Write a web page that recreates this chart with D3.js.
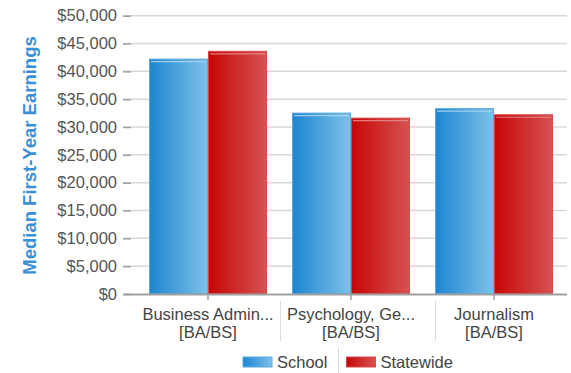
<!DOCTYPE html>
<html>
<head>
<meta charset="utf-8">
<script src="https://cdn.jsdelivr.net/npm/d3@7"></script>
<style>
  html, body { margin: 0; padding: 0; background: #fff; }
  svg { display: block; font-family: "Liberation Sans", Arial, sans-serif; }
</style>
</head>
<body>
<svg id="chart" width="571" height="373"></svg>
<script>
// Median first-year earnings by program
const categories = [["Business Admin...", "[BA/BS]"], ["Psychology, Ge...", "[BA/BS]"], ["Journalism", "[BA/BS]"]];
const seriesNames = ["School", "Statewide"];
const schoolValues = [42200, 32500, 33300];
const statewideValues = [43600, 31600, 32200];
const yTicks = [0, 5000, 10000, 15000, 20000, 25000, 30000, 35000, 40000, 45000, 50000];
const yTitle = "Median First-Year Earnings";

const svg = d3.select("#chart");
const plotLeft = 123, plotRight = 567, plotTop = 15.7, plotBottom = 294;
const fontSize = "16.5px";

const y = d3.scaleLinear().domain([0, 50000]).range([plotBottom, plotTop]);
const x = d3.scaleBand().domain(d3.range(categories.length)).range([136.5, 565.5]);
const inner = d3.scaleBand().domain(seriesNames).range([0, 118]);

const defs = svg.append("defs");
function grad(id, c0, c1) {
  const g = defs.append("linearGradient").attr("id", id).attr("x1", 0).attr("x2", 1).attr("y1", 0).attr("y2", 0);
  g.append("stop").attr("offset", "0%").attr("stop-color", c0);
  g.append("stop").attr("offset", "100%").attr("stop-color", c1);
}
grad("gSchool", "#1c86d1", "#7ec1e8");
grad("gState", "#c70606", "#d65252");
const fills = { School: "url(#gSchool)", Statewide: "url(#gState)" };
const edges = { School: "#5aa9e0", Statewide: "#d84848" };
const shine = { School: "#a9d6f2", Statewide: "#e88a8a" };

// gridlines
svg.append("g").selectAll("line").data(yTicks.filter(d => d > 0)).join("line")
  .attr("x1", plotLeft).attr("x2", plotRight)
  .attr("y1", d => y(d)).attr("y2", d => y(d))
  .attr("stroke", "#d8d8d8").attr("stroke-width", 1.5);

// y axis ticks and labels
const yAxis = d3.axisLeft(y).tickValues(yTicks).tickSize(8).tickPadding(6)
  .tickFormat(d => "$" + d3.format(",")(d));
const ya = svg.append("g").attr("transform", `translate(${plotLeft + 8},0)`).call(yAxis);
ya.select(".domain").remove();
ya.selectAll(".tick line").attr("stroke", "#a0a0a0").attr("stroke-width", 1.5);
ya.selectAll(".tick text").attr("fill", "#555").style("font-size", fontSize)
  .style("font-family", "Liberation Sans, Arial, sans-serif");

// y title
svg.append("text")
  .attr("transform", `translate(35.5,155.5) rotate(-90)`)
  .attr("text-anchor", "middle")
  .attr("fill", "#3a90d6").style("font-weight", "bold").style("font-size", "18.5px")
  .text(yTitle);

// bars
const rows = categories.map((c, i) => ({ i, vals: [
  { key: "School", v: schoolValues[i] },
  { key: "Statewide", v: statewideValues[i] }] }));

const groups = svg.append("g").selectAll("g").data(rows).join("g")
  .attr("transform", d => `translate(${x(d.i) + x.bandwidth() / 2 - 59},0)`);

groups.selectAll("rect.bar").data(d => d.vals).join("rect").attr("class", "bar")
  .attr("x", d => inner(d.key) + 0.5).attr("width", inner.bandwidth() - 1)
  .attr("y", d => y(d.v)).attr("height", d => plotBottom - y(d.v))
  .attr("fill", d => fills[d.key]).attr("stroke", d => edges[d.key]).attr("stroke-width", 1);

groups.selectAll("line.shine").data(d => d.vals).join("line").attr("class", "shine")
  .attr("x1", d => inner(d.key) + 2).attr("x2", d => inner(d.key) + inner.bandwidth() - 2)
  .attr("y1", d => y(d.v) + 2.5).attr("y2", d => y(d.v) + 2.5)
  .attr("stroke", d => shine[d.key]).attr("stroke-width", 1.2).attr("opacity", 0.9);

// x axis
svg.append("line").attr("x1", plotLeft + 1).attr("x2", plotRight).attr("y1", plotBottom + 0.5).attr("y2", plotBottom + 0.5)
  .attr("stroke", "#a0a0a0").attr("stroke-width", 2);
svg.append("g").selectAll("line").data(rows).join("line")
  .attr("x1", d => x(d.i) + x.bandwidth() / 2).attr("x2", d => x(d.i) + x.bandwidth() / 2)
  .attr("y1", plotBottom).attr("y2", plotBottom + 6)
  .attr("stroke", "#a0a0a0").attr("stroke-width", 1.5);

const labels = svg.append("g").selectAll("text").data(rows).join("text")
  .attr("text-anchor", "middle").attr("fill", "#444").style("font-size", fontSize)
  .attr("x", d => x(d.i) + x.bandwidth() / 2).attr("y", 320);
labels.selectAll("tspan").data(d => categories[d.i]).join("tspan")
  .attr("x", function () { return d3.select(this.parentNode).attr("x"); })
  .attr("dy", (d, k) => k === 0 ? 0 : 18)
  .text(d => d);

// separators between category labels
const boxes = labels.nodes().map(n => n.getBBox());
for (let k = 0; k < boxes.length - 1; k++) {
  const sx = Math.round((boxes[k].x + boxes[k].width + boxes[k + 1].x) / 2) + 0.5;
  svg.append("line").attr("x1", sx).attr("x2", sx).attr("y1", 301).attr("y2", 341)
    .attr("stroke", "#dcdcdc").attr("stroke-width", 1);
}

// legend
const legend = svg.append("g");
const items = legend.selectAll("g").data(seriesNames).join("g");
items.append("rect").attr("width", 29).attr("height", 10).attr("y", 357)
  .attr("fill", d => fills[d]).attr("stroke", d => edges[d]).attr("stroke-width", 1);
items.append("text").attr("x", 34).attr("y", 368).attr("fill", "#444").style("font-size", fontSize).text(d => d);
let lx = 243;
const gap = 19;
const starts = [];
items.each(function () {
  starts.push(lx);
  d3.select(this).attr("transform", `translate(${lx},0)`);
  lx += this.getBBox().width + gap;
});
const sepX = Math.round(starts[1] - 8) + 0.5;
legend.append("line").attr("x1", sepX).attr("x2", sepX).attr("y1", 347).attr("y2", 373)
  .attr("stroke", "#dcdcdc").attr("stroke-width", 1);
</script>
</body>
</html>
